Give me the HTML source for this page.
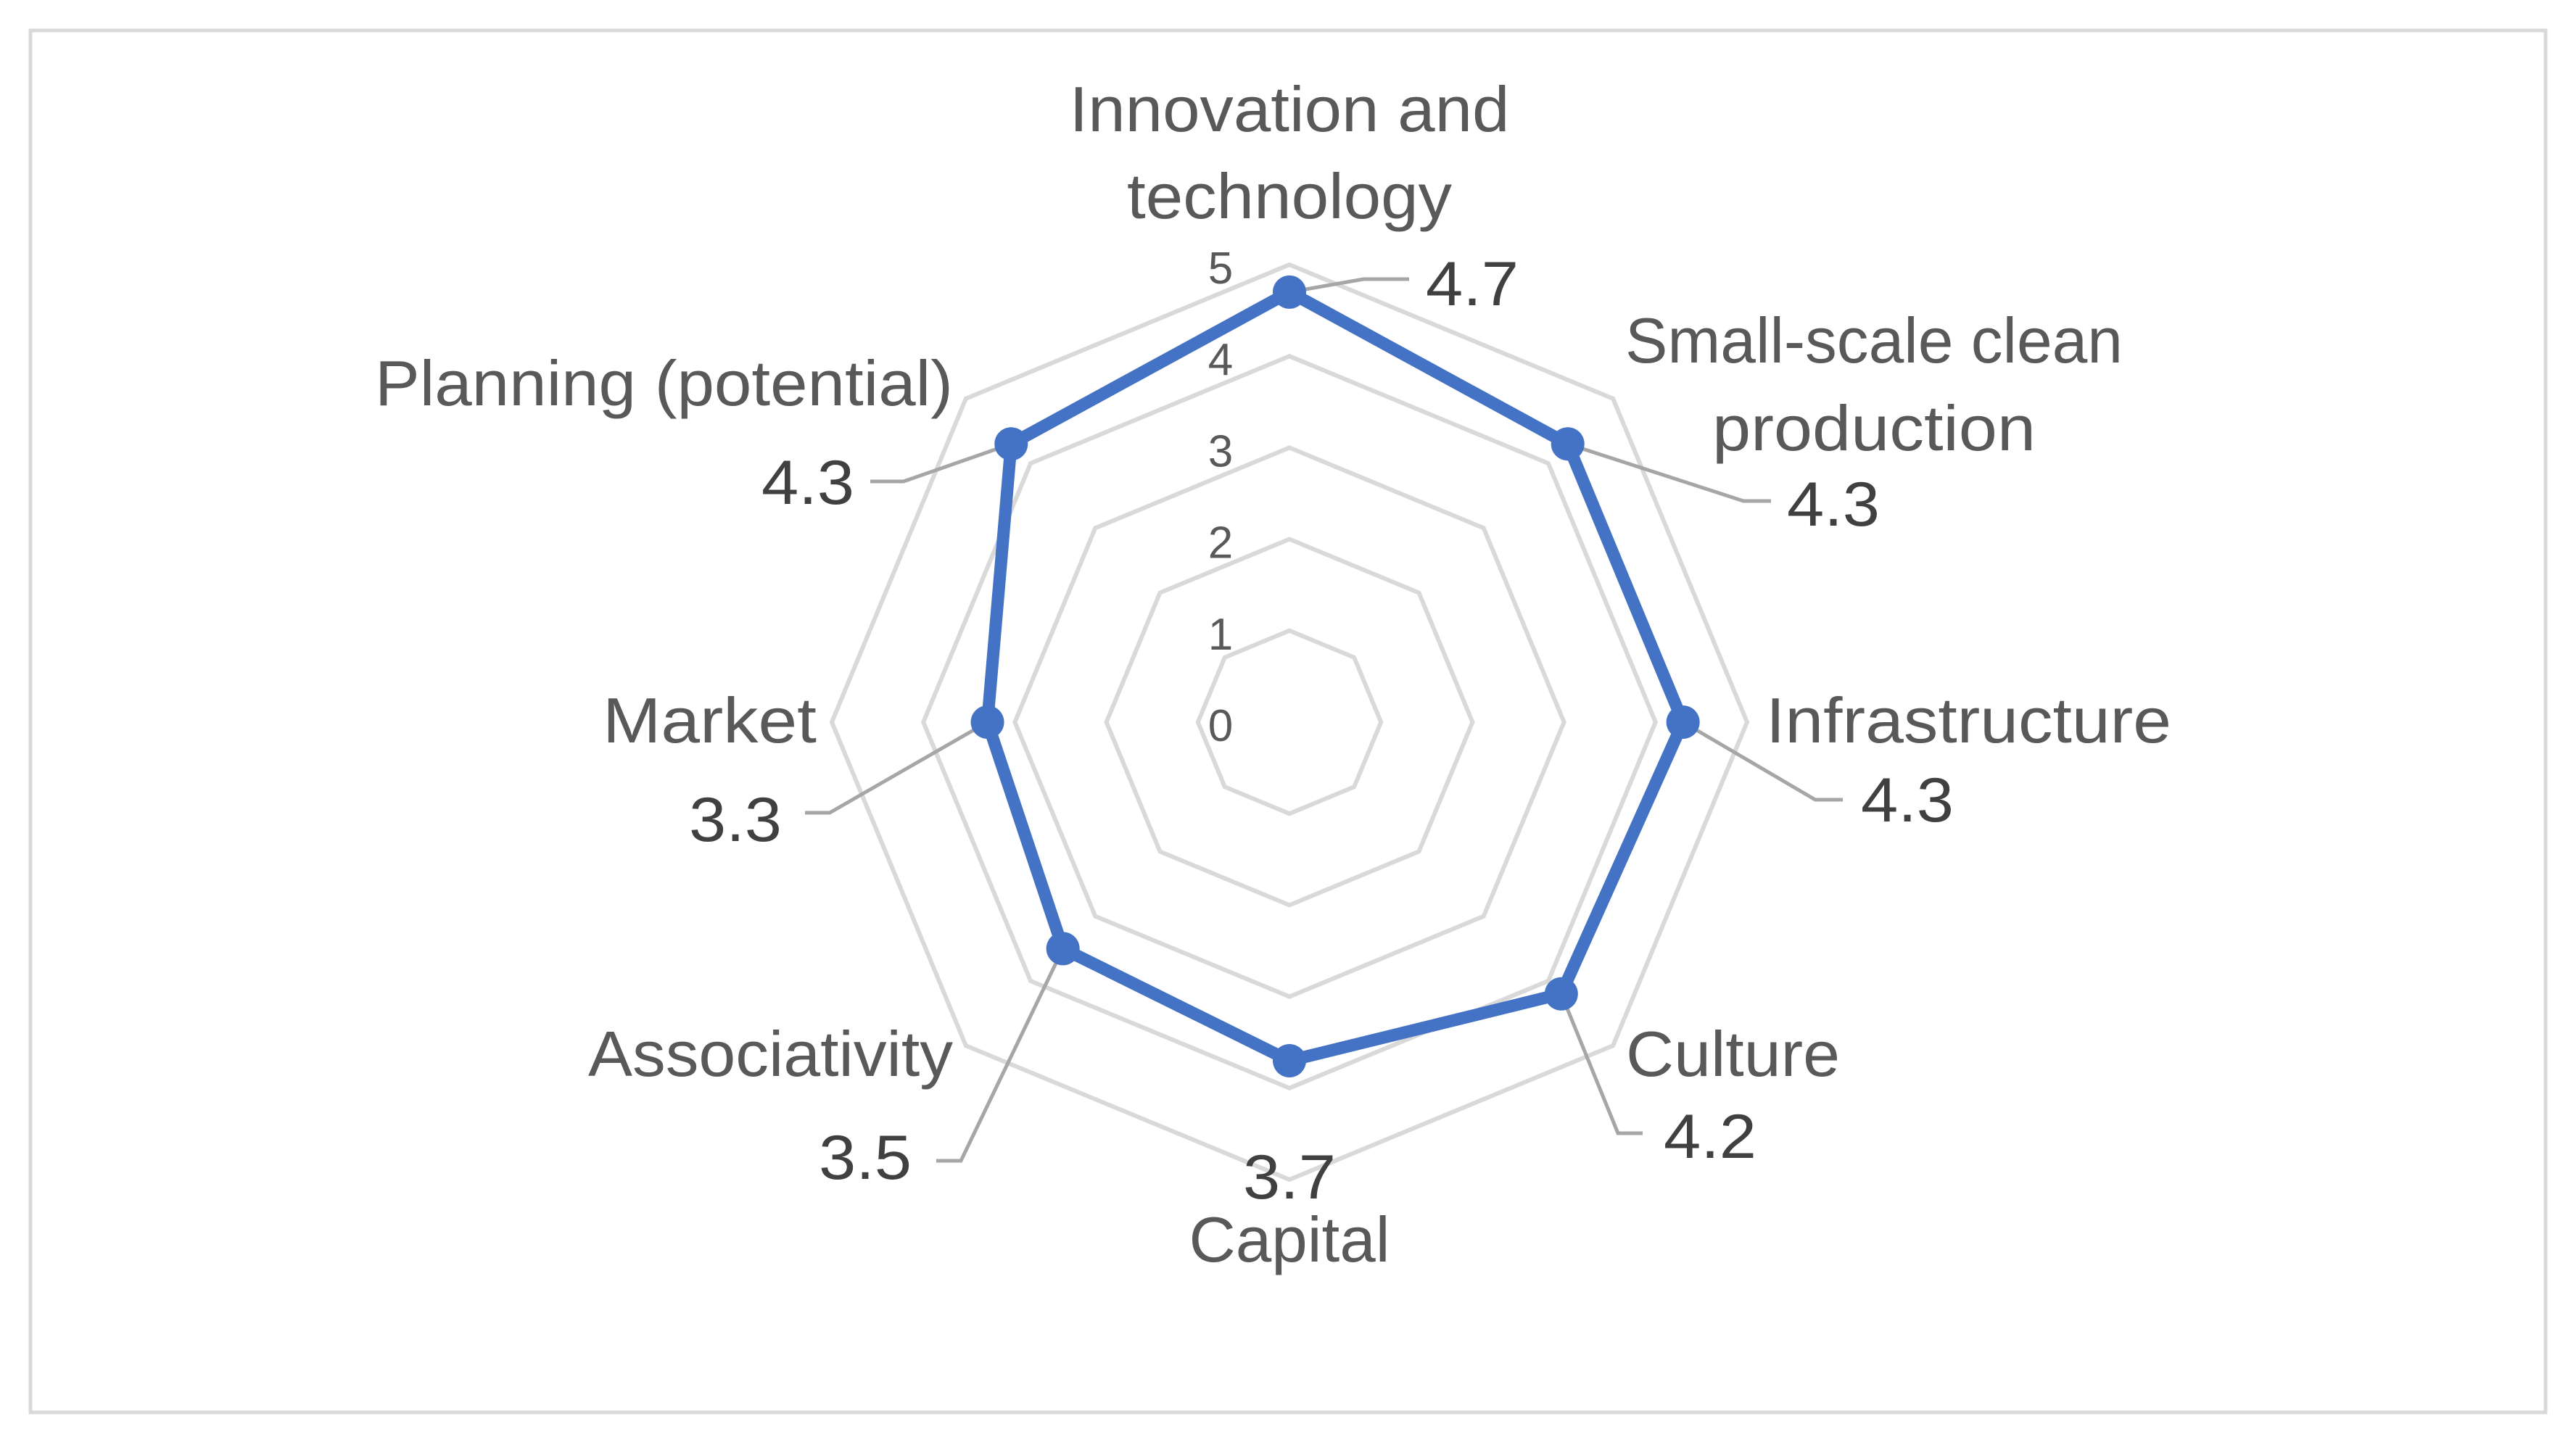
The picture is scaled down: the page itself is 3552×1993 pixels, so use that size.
<!DOCTYPE html>
<html><head><meta charset="utf-8"><style>
html,body{margin:0;padding:0;background:#fff;}
svg{display:block;font-family:"Liberation Sans",sans-serif;}
</style></head><body>
<svg id="chart" width="3552" height="1993" viewBox="0 0 3552 1993" xmlns="http://www.w3.org/2000/svg">
<rect x="42" y="42" width="3468" height="1906" fill="#fff" stroke="#d9d9d9" stroke-width="5"/>
<g id="grid"></g>
<g id="ticks"></g>
<g id="leaders"></g>
<g id="series"></g>
<g id="labels"></g>
</svg>
<script>
const categories = ["Innovation and technology","Small-scale clean production","Infrastructure","Culture","Capital","Associativity","Market","Planning (potential)"];
const values = [4.7,4.3,4.3,4.2,3.7,3.5,3.3,4.3];
const tickLabels = ["0","1","2","3","4","5"];
const maxValue = 5;

const NS="http://www.w3.org/2000/svg";
const cx=1778, cy=996, R=631;
function rScale(v){return v/maxValue*R;}
function pt(i,v){const a=-Math.PI/2+i*2*Math.PI/categories.length;const r=rScale(v);return [cx+r*Math.cos(a),cy+r*Math.sin(a)];}
function mk(tag,attrs,parent){const e=document.createElementNS(NS,tag);for(const k in attrs)e.setAttribute(k,attrs[k]);parent.appendChild(e);return e;}

const grid=document.getElementById('grid');
tickLabels.forEach((t,k)=>{
  const v=+t; if(v===0) return;
  const pts=categories.map((c,i)=>pt(i,v).join(',')).join(' ');
  const p=mk('polygon',{points:pts,fill:'none',stroke:'#d9d9d9','stroke-width':6},grid);
  
  
});
const ticks=document.getElementById('ticks');
tickLabels.forEach(t=>{
  const y=cy-rScale(+t)+26;
  const e=mk('text',{x:1683,y:y,'font-size':62,fill:'#595959','text-anchor':'middle'},ticks);
  e.textContent=t;
  
  
});

const catLayout=[
 {lines:[[1778,181,'middle',607],[1778,301,'middle',448]]},
 {lines:[[2584,500,'middle',686],[2584,621,'middle',446]]},
 {lines:[[2435,1024,'start',559]]},
 {lines:[[2242,1484,'start',295]]},
 {lines:[[1778,1740,'middle',277]]},
 {lines:[[1314,1484,'end',503]]},
 {lines:[[1126,1024,'end',295]]},
 {lines:[[1314,559,'end',797]]}
];
const splitCats=[["Innovation and","technology"],["Small-scale clean","production"],["Infrastructure"],["Culture"],["Capital"],["Associativity"],["Market"],["Planning (potential)"]];
const valLayout=[[1966,421,'start'],[2464,725,'start'],[2566,1133,'start'],[2294,1597,'start'],[1778,1653,'middle'],[1257,1626,'end'],[1078,1160,'end'],[1178,695,'end']];
const elbows=[[[1880,385],[1943,385]],[[2404,691],[2442,691]],[[2503,1103],[2541,1103]],[[2231,1563],[2265,1563]],null,[[1325,1601],[1291,1601]],[[1144,1121],[1110,1121]],[[1246,664],[1200,664]]];

const leaders=document.getElementById('leaders');
const labels=document.getElementById('labels');
categories.forEach((c,i)=>{
  const p=pt(i,values[i]);
  if(elbows[i]){
    const l=mk('polyline',{points:[p,elbows[i][0],elbows[i][1]].map(q=>q.join(',')).join(' '),fill:'none',stroke:'#a6a6a6','stroke-width':5},leaders);
    
    
  }
  catLayout[i].lines.forEach((ln,j)=>{
    const t=mk('text',{x:ln[0],y:ln[1],'text-anchor':ln[2],'font-size':88,fill:'#595959',textLength:ln[3],lengthAdjust:'spacingAndGlyphs'},labels);
    t.textContent=splitCats[i][j];
    
    
  });
  const v=valLayout[i];
  const vt=mk('text',{x:v[0],y:v[1],'text-anchor':v[2],'font-size':86,fill:'#404040',textLength:128,lengthAdjust:'spacingAndGlyphs'},labels);
  vt.textContent=values[i].toFixed(1);
  
  
});

const series=document.getElementById('series');
const poly=mk('polygon',{points:values.map((v,i)=>pt(i,v).join(',')).join(' '),fill:'none',stroke:'#4472c4','stroke-width':17,'stroke-linejoin':'round'},series);


values.forEach((v,i)=>{
  const p=pt(i,v);
  const m=mk('circle',{cx:p[0],cy:p[1],r:23,fill:'#4472c4'},series);
  
  
});
</script>
</body></html>
